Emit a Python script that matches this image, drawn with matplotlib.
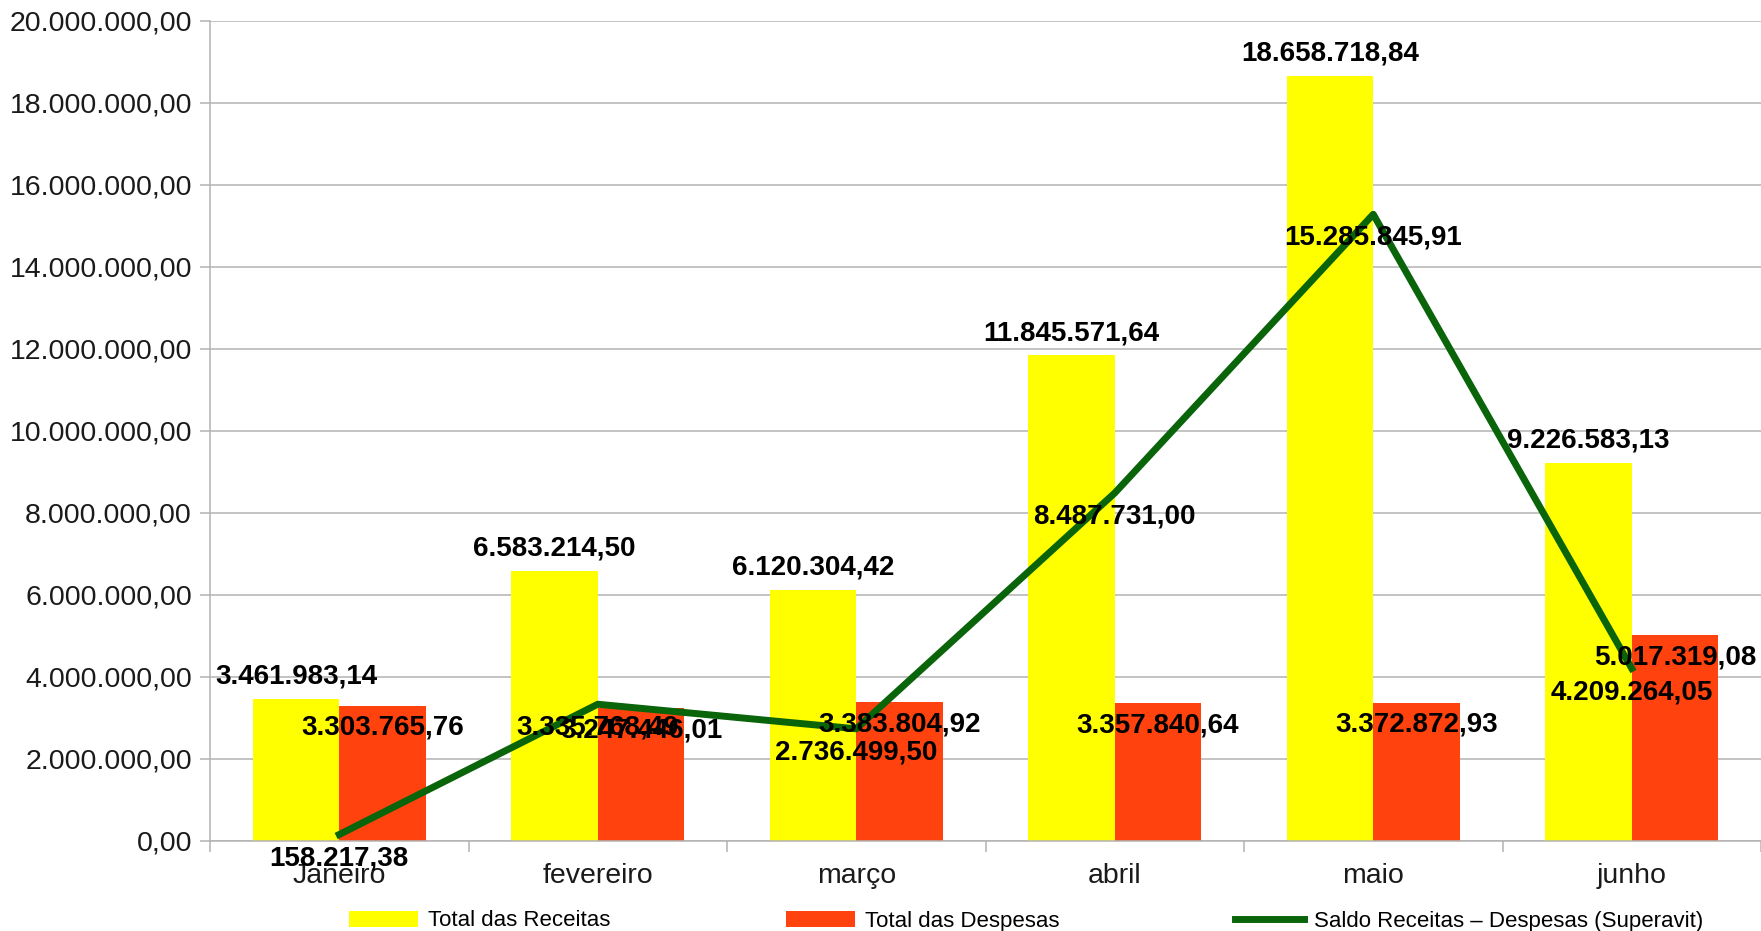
import numpy as np
import matplotlib
matplotlib.use('Agg')
import matplotlib.pyplot as plt
from matplotlib.ticker import FuncFormatter, FixedLocator

plt.rcParams['font.family'] = ['Liberation Sans', 'DejaVu Sans']

meses = ['Janeiro', 'fevereiro', 'março', 'abril', 'maio', 'junho']
receitas = [3461983.14, 6583214.50, 6120304.42, 11845571.64, 18658718.84, 9226583.13]
despesas = [3303765.76, 3247446.01, 3383804.92, 3357840.64, 3372872.93, 5017319.08]
saldo = [158217.38, 3335768.49, 2736499.50, 8487731.00, 15285845.91, 4209264.05]


def br(v, pos=None):
    s = f'{v:,.2f}'
    return s.replace(',', '#').replace('.', ',').replace('#', '.')


fig = plt.figure(figsize=(17.61, 9.31), dpi=100)
ax = fig.add_axes([210 / 1761, 1 - 841 / 931, 1 - 210 / 1761, (841 - 21) / 931])

x = np.arange(len(meses))
w = 0.335
b1 = ax.bar(x - w, receitas, w, align='edge', color='#ffff00', label='Total das Receitas', zorder=2)
b2 = ax.bar(x, despesas, w, align='edge', color='#ff420e', label='Total das Despesas', zorder=2)
l1, = ax.plot(x, saldo, color='#0a640a', lw=5, solid_joinstyle='round',
              label='Saldo Receitas – Despesas (Superavit)', zorder=3)

lab = dict(ha='center', va='center', fontsize=20, fontweight='bold', color='black',
           textcoords='offset points', zorder=5, annotation_clip=False)
for i in range(len(meses)):
    ax.annotate(br(receitas[i]), (x[i] - w / 2, receitas[i]), xytext=(0, 16), **lab)
    ax.annotate(br(despesas[i]), (x[i] + w / 2, despesas[i]), xytext=(0, -16), **lab)
    ax.annotate(br(saldo[i]), (x[i], saldo[i]), xytext=(0, -17), **lab)

ax.set_xlim(-0.5, len(meses) - 0.5)
ax.set_ylim(0, 20000000)
ax.set_yticks(np.arange(0, 20000001, 2000000))
ax.yaxis.set_major_formatter(FuncFormatter(br))
ax.yaxis.grid(True, color='#b3b3b3', lw=1.1, zorder=0)
ax.set_axisbelow(True)

ax.set_xticks(x)
ax.set_xticklabels(meses)
ax.xaxis.set_minor_locator(FixedLocator(np.arange(-0.5, len(meses), 1.0)))
ax.tick_params(axis='x', which='major', length=0, pad=16, labelsize=20.5, labelcolor='#1a1a1a')
ax.tick_params(axis='x', which='minor', length=8, width=1.1, color='#b3b3b3')
ax.tick_params(axis='y', length=7, width=1.1, color='#b3b3b3', pad=6, labelsize=20.5,
               labelcolor='#1a1a1a')

for s in ['top', 'right']:
    ax.spines[s].set_visible(False)
for s in ['left', 'bottom']:
    ax.spines[s].set_color('#b3b3b3')
    ax.spines[s].set_linewidth(1.1)

fig.legend(handles=[b1, b2, l1], loc='center', bbox_to_anchor=(0.5826, 1 - 921 / 931), ncol=3,
           frameon=False, fontsize=16, handlelength=3.1, handleheight=0.7, handletextpad=0.45,
           columnspacing=7.9, borderaxespad=0, borderpad=0)

fig.savefig('out.png', dpi=100)
